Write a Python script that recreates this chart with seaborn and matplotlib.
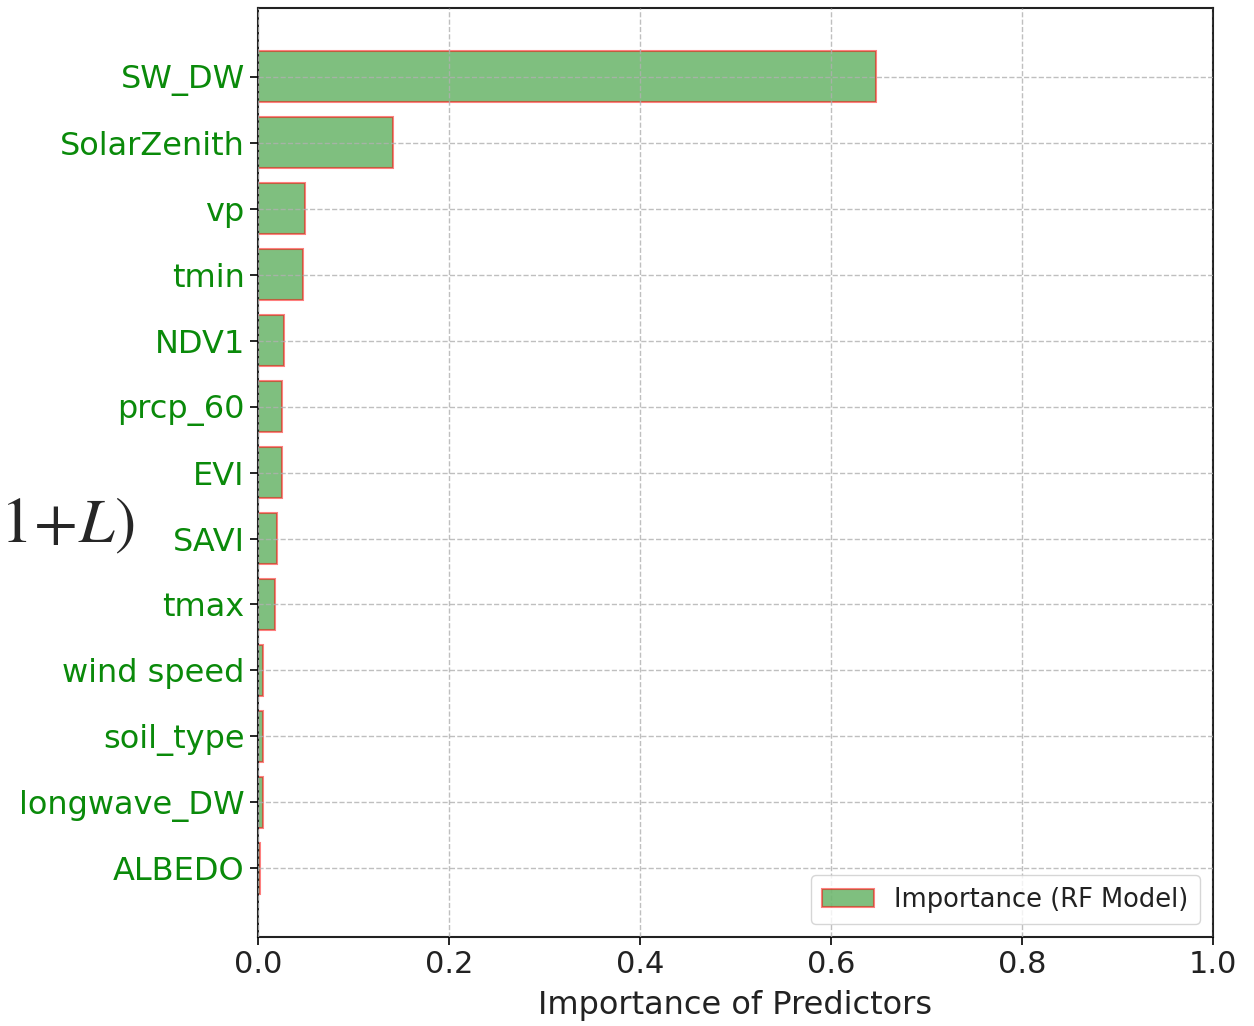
import matplotlib
matplotlib.use("Agg")
import matplotlib.pyplot as plt
import seaborn as sns
import pandas as pd

predictors = ["SW_DW", "SolarZenith", "vp", "tmin", "NDV1", "prcp_60", "EVI",
              "SAVI", "tmax", "wind speed", "soil_type", "longwave_DW", "ALBEDO"]
importance = [0.647, 0.141, 0.049, 0.047, 0.027, 0.025, 0.025,
              0.020, 0.018, 0.005, 0.005, 0.005, 0.002]

df = pd.DataFrame({"predictor": predictors, "importance": importance})

sns.set_style("white")
plt.rcParams["font.family"] = ["DejaVu Sans"]
plt.rcParams["mathtext.fontset"] = "stix"

fig = plt.figure(figsize=(12.54, 10.26), dpi=100)
ax = fig.add_axes([0.2057, 0.0867, 0.7616, 0.9055])

sns.barplot(data=df, x="importance", y="predictor", orient="h", ax=ax,
            color="green", saturation=1, alpha=0.5, edgecolor="red", linewidth=1.5,
            width=0.78, label="Importance (RF Model)")

ax.set_xlim(0, 1.0)
ax.set_ylim(12.5 + 0.54, -0.5 - 0.54)
ax.set_axisbelow(False)
ax.grid(True, linestyle="--", color="#b0b0b0", linewidth=1.0, alpha=0.8)
ax.set_xlabel("Importance of Predictors", fontsize=23, color="#222222", labelpad=8)
ax.set_ylabel("")
ax.tick_params(axis="y", labelsize=23, labelcolor="#0a8a0a", length=6, width=1.2, left=True, color="black")
ax.tick_params(axis="x", labelsize=22, labelcolor="#222222", length=6, width=1.2, bottom=True, color="black")
for s in ax.spines.values():
    s.set_color("#222222")
    s.set_linewidth(1.5)

leg = ax.legend(loc="lower right", fontsize=18.5, frameon=True, handlelength=2.0,
                borderpad=0.45)
for t in leg.get_texts():
    t.set_color("#222222")

fig.text(0.0, 0.488, r"$1\!+\!L)$", fontsize=46, ha="left", va="center")

fig.savefig("out.png", dpi=100)
